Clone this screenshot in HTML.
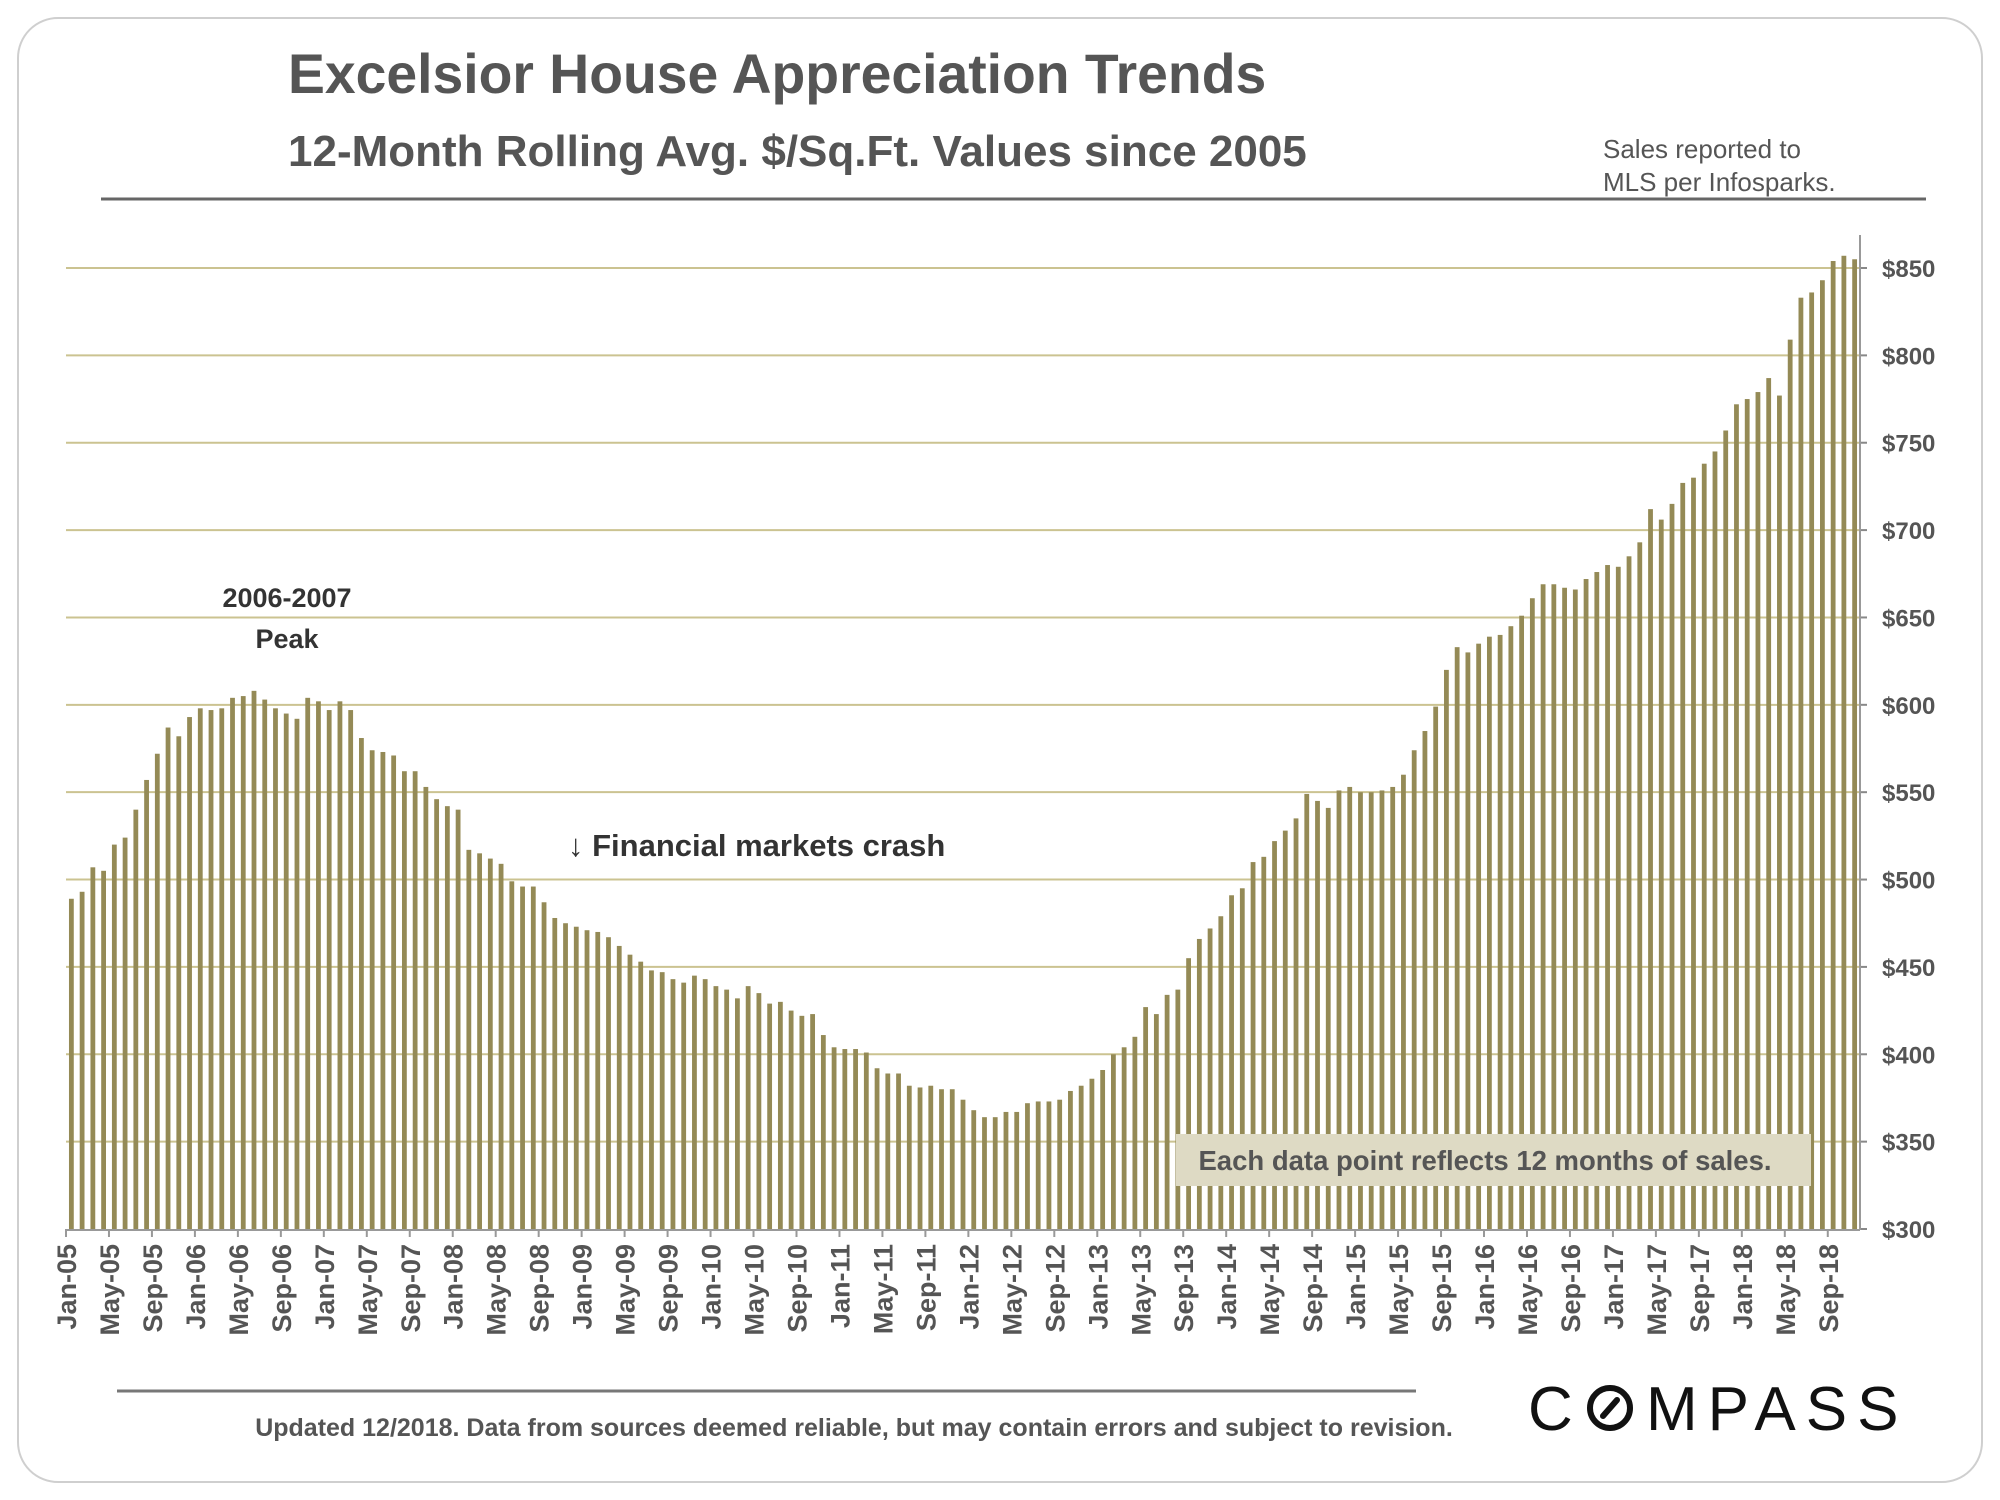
<!DOCTYPE html>
<html><head><meta charset="utf-8"><style>
html,body{margin:0;padding:0;background:#fff;}
svg{display:block;font-family:"Liberation Sans",sans-serif;}
</style></head><body>
<svg id="chart" width="2000" height="1500" viewBox="0 0 2000 1500">
<rect x="18" y="18" width="1964" height="1464" rx="40" fill="#fff" stroke="#cfcfcf" stroke-width="2"/>
<text x="288" y="93" font-size="55.3" font-weight="bold" fill="#555">Excelsior House Appreciation Trends</text>
<text x="288" y="166" font-size="44" font-weight="bold" fill="#555">12-Month Rolling Avg. $/Sq.Ft. Values since 2005</text>
<text x="1603" y="158" font-size="26" fill="#555">Sales reported to</text>
<text x="1603" y="191" font-size="26" fill="#555">MLS per Infosparks.</text>
<line x1="101" y1="199" x2="1926" y2="199" stroke="#666" stroke-width="3"/>
<g id="grid"></g>
<g id="bars"></g>
<g id="axes"></g>
<text x="287" y="607" font-size="27" font-weight="bold" fill="#333" text-anchor="middle">2006-2007</text>
<text x="287" y="648" font-size="27" font-weight="bold" fill="#333" text-anchor="middle">Peak</text>
<text x="568" y="856" font-size="31" font-weight="bold" fill="#333">↓ Financial markets crash</text>
<rect x="1176" y="1134" width="635" height="52" fill="#dedac4"/>
<text x="1485" y="1170" font-size="27.5" font-weight="bold" fill="#555" text-anchor="middle">Each data point reflects 12 months of sales.</text>
<line x1="117" y1="1391" x2="1416" y2="1391" stroke="#777" stroke-width="3"/>
<text x="854" y="1436" font-size="25" font-weight="bold" fill="#555" text-anchor="middle">Updated 12/2018. Data from sources deemed reliable, but may contain errors and subject to revision.</text>
<g>
<text x="1528" y="1430" font-size="62" fill="#111">C</text>
<circle cx="1610" cy="1408" r="20" fill="none" stroke="#111" stroke-width="6"/>
<line x1="1603" y1="1416" x2="1617" y2="1400" stroke="#111" stroke-width="6" stroke-linecap="round"/>
<text x="1646" y="1430" font-size="62" fill="#111" letter-spacing="10">MPASS</text>
</g>
</svg>
<script>
const values = [
489,493,507,505,520,524,540,557,572,587,582,593,
598,597,598,604,605,608,603,598,595,592,604,602,
597,602,597,581,574,573,571,562,562,553,546,542,
540,517,515,512,509,499,496,496,487,478,475,473,
471,470,467,462,457,453,448,447,443,441,445,443,
439,437,432,439,435,429,430,425,422,423,411,404,
403,403,401,392,389,389,382,381,382,380,380,374,
368,364,364,367,367,372,373,373,374,379,382,386,
391,400,404,410,427,423,434,437,455,466,472,479,
491,495,510,513,522,528,535,549,545,541,551,553,
550,550,551,553,560,574,585,599,620,633,630,635,
639,640,645,651,661,669,669,667,666,672,676,680,
679,685,693,712,706,715,727,730,738,745,757,772,
775,779,787,777,809,833,836,843,854,857,855];
const monthNames = ["Jan","May","Sep"];
const yTicks = [300,350,400,450,500,550,600,650,700,750,800,850];
const startYear = 2005;

const NS="http://www.w3.org/2000/svg";
const L=66,R=1860,Y0=1229,Y1=268,vMin=300,vMax=850;
const n=values.length, slot=(R-L)/n;
const y=v=>Y0-(v-vMin)*(Y0-Y1)/(vMax-vMin);
const x=i=>L+slot*(i+0.5);
function mk(tag,attrs,parent){const e=document.createElementNS(NS,tag);for(const k in attrs)e.setAttribute(k,attrs[k]);parent.appendChild(e);return e;}
const grid=document.getElementById('grid'),bars=document.getElementById('bars'),axes=document.getElementById('axes');
yTicks.forEach(t=>{
  if(t>vMin){const g=mk('line',{x1:L,x2:R,y1:y(t),y2:y(t),stroke:'#cbc391','stroke-width':2},grid);
  
  }
  const tk=mk('line',{x1:R,x2:R+7,y1:y(t),y2:y(t),stroke:'#888','stroke-width':2},axes);
  
  
  const lb=mk('text',{x:R+22,y:y(t)+9,'font-size':24,'font-weight':'bold',fill:'#555'},axes);
  lb.textContent='$'+t;
  
  
});
values.forEach((v,i)=>{
  const b=mk('rect',{x:x(i)-2.4,y:y(v),width:4.8,height:Y0-y(v),fill:'#948a56'},bars);
  
  
});
const ax=mk('line',{x1:L,x2:R,y1:Y0+1,y2:Y0+1,stroke:'#999','stroke-width':2},axes);


const ay=mk('line',{x1:R,x2:R,y1:235,y2:Y0+1,stroke:'#999','stroke-width':2},axes);


for(let i=0;i<n;i+=4){
  const tx=L+slot*i;
  const tk=mk('line',{x1:tx,x2:tx,y1:Y0,y2:Y0+8,stroke:'#999','stroke-width':2},axes);
  
  
  const yr=String(startYear+Math.floor(i/12)).slice(2);
  const lb=mk('text',{x:0,y:0,'font-size':27,'font-weight':'bold',fill:'#555','text-anchor':'end',transform:`translate(${tx+10},${Y0+15}) rotate(-90)`},axes);
  lb.textContent=monthNames[(i%12)/4]+'-'+yr;
  
  
}
</script>
</body></html>
